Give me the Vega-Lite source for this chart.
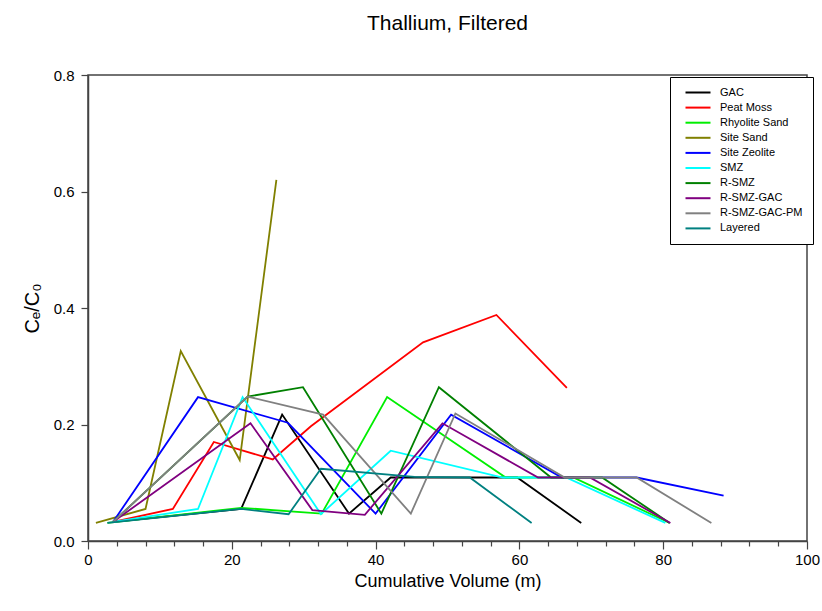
{
  "$schema": "https://vega.github.io/schema/vega-lite/v6.json",
  "width": 719,
  "height": 466,
  "autosize": {"type": "none"},
  "padding": {"left": 88, "top": 75, "right": 15, "bottom": 70},
  "background": "white",
  "title": {"text": "Thallium, Filtered", "font": "Liberation Sans", "fontSize": 21, "fontWeight": "normal", "color": "#000", "anchor": "middle", "offset": 34},
  "config": {
    "view": {"stroke": "#444", "strokeWidth": 1.5},
    "axis": {"labelFont": "Liberation Sans", "titleFont": "Liberation Sans", "labelColor": "#000", "titleColor": "#000", "domainColor": "#444", "tickColor": "#444", "domainWidth": 1.5, "tickWidth": 1.2, "grid": false, "titleFontWeight": "normal"}
  },
  "data": {"values": [
    {"s": "GAC", "x": 3.5, "y": 0.033}, {"s": "GAC", "x": 21.3, "y": 0.055}, {"s": "GAC", "x": 27.0, "y": 0.217}, {"s": "GAC", "x": 36.3, "y": 0.047}, {"s": "GAC", "x": 42.1, "y": 0.109}, {"s": "GAC", "x": 59.7, "y": 0.109}, {"s": "GAC", "x": 68.6, "y": 0.031},
    {"s": "Peat Moss", "x": 3.5, "y": 0.033}, {"s": "Peat Moss", "x": 11.8, "y": 0.055}, {"s": "Peat Moss", "x": 17.5, "y": 0.170}, {"s": "Peat Moss", "x": 25.7, "y": 0.140}, {"s": "Peat Moss", "x": 31.0, "y": 0.197}, {"s": "Peat Moss", "x": 46.6, "y": 0.341}, {"s": "Peat Moss", "x": 56.8, "y": 0.388}, {"s": "Peat Moss", "x": 66.6, "y": 0.263},
    {"s": "Rhyolite Sand", "x": 2.7, "y": 0.031}, {"s": "Rhyolite Sand", "x": 21.3, "y": 0.057}, {"s": "Rhyolite Sand", "x": 32.5, "y": 0.047}, {"s": "Rhyolite Sand", "x": 41.6, "y": 0.247}, {"s": "Rhyolite Sand", "x": 58.1, "y": 0.109}, {"s": "Rhyolite Sand", "x": 67.5, "y": 0.109}, {"s": "Rhyolite Sand", "x": 80.9, "y": 0.031},
    {"s": "Site Sand", "x": 1.1, "y": 0.031}, {"s": "Site Sand", "x": 8.0, "y": 0.055}, {"s": "Site Sand", "x": 12.9, "y": 0.326}, {"s": "Site Sand", "x": 21.1, "y": 0.139}, {"s": "Site Sand", "x": 26.2, "y": 0.620},
    {"s": "Site Zeolite", "x": 3.5, "y": 0.033}, {"s": "Site Zeolite", "x": 15.3, "y": 0.247}, {"s": "Site Zeolite", "x": 27.8, "y": 0.203}, {"s": "Site Zeolite", "x": 40.0, "y": 0.047}, {"s": "Site Zeolite", "x": 50.5, "y": 0.217}, {"s": "Site Zeolite", "x": 65.9, "y": 0.109}, {"s": "Site Zeolite", "x": 76.3, "y": 0.109}, {"s": "Site Zeolite", "x": 88.4, "y": 0.078},
    {"s": "SMZ", "x": 3.5, "y": 0.033}, {"s": "SMZ", "x": 15.3, "y": 0.055}, {"s": "SMZ", "x": 21.5, "y": 0.247}, {"s": "SMZ", "x": 32.4, "y": 0.046}, {"s": "SMZ", "x": 42.1, "y": 0.155}, {"s": "SMZ", "x": 57.7, "y": 0.109}, {"s": "SMZ", "x": 66.5, "y": 0.109}, {"s": "SMZ", "x": 80.3, "y": 0.031},
    {"s": "R-SMZ", "x": 3.5, "y": 0.033}, {"s": "R-SMZ", "x": 22.2, "y": 0.248}, {"s": "R-SMZ", "x": 29.9, "y": 0.264}, {"s": "R-SMZ", "x": 40.8, "y": 0.047}, {"s": "R-SMZ", "x": 48.8, "y": 0.264}, {"s": "R-SMZ", "x": 64.4, "y": 0.109}, {"s": "R-SMZ", "x": 71.5, "y": 0.109}, {"s": "R-SMZ", "x": 80.9, "y": 0.031},
    {"s": "R-SMZ-GAC", "x": 3.5, "y": 0.033}, {"s": "R-SMZ-GAC", "x": 22.6, "y": 0.202}, {"s": "R-SMZ-GAC", "x": 31.2, "y": 0.053}, {"s": "R-SMZ-GAC", "x": 38.5, "y": 0.045}, {"s": "R-SMZ-GAC", "x": 49.3, "y": 0.202}, {"s": "R-SMZ-GAC", "x": 62.6, "y": 0.109}, {"s": "R-SMZ-GAC", "x": 69.8, "y": 0.109}, {"s": "R-SMZ-GAC", "x": 81.0, "y": 0.031},
    {"s": "R-SMZ-GAC-PM", "x": 3.5, "y": 0.033}, {"s": "R-SMZ-GAC-PM", "x": 22.2, "y": 0.248}, {"s": "R-SMZ-GAC-PM", "x": 32.7, "y": 0.217}, {"s": "R-SMZ-GAC-PM", "x": 44.9, "y": 0.047}, {"s": "R-SMZ-GAC-PM", "x": 51.1, "y": 0.219}, {"s": "R-SMZ-GAC-PM", "x": 66.3, "y": 0.109}, {"s": "R-SMZ-GAC-PM", "x": 76.3, "y": 0.109}, {"s": "R-SMZ-GAC-PM", "x": 86.7, "y": 0.031},
    {"s": "Layered", "x": 2.7, "y": 0.031}, {"s": "Layered", "x": 21.3, "y": 0.055}, {"s": "Layered", "x": 27.9, "y": 0.046}, {"s": "Layered", "x": 32.4, "y": 0.124}, {"s": "Layered", "x": 45.4, "y": 0.110}, {"s": "Layered", "x": 53.1, "y": 0.109}, {"s": "Layered", "x": 61.7, "y": 0.031}
  ]},
  "mark": {"type": "line", "strokeWidth": 1.8},
  "encoding": {
    "x": {"field": "x", "type": "quantitative", "scale": {"domain": [0, 100], "nice": false},
      "axis": {"title": "Cumulative Volume (m)", "titleFontSize": 18, "labelFontSize": 15, "values": [0,4,8,12,16,20,24,28,32,36,40,44,48,52,56,60,64,68,72,76,80,84,88,92,96,100],
        "labelExpr": "datum.value % 20 === 0 ? datum.label : ''",
        "tickSize": {"condition": {"test": "datum.value % 20 === 0", "value": 8}, "value": 5},
        "labelPadding": 3, "titlePadding": 5, "labelFlush": false, "labelOverlap": false}},
    "y": {"field": "y", "type": "quantitative", "scale": {"domain": [0, 0.8], "nice": false},
      "axis": {"title": "Cₑ/C₀", "titleFontSize": 20, "labelFontSize": 15, "values": [0, 0.2, 0.4, 0.6, 0.8], "format": ".1f", "tickSize": 7, "labelPadding": 7, "titlePadding": 11, "labelFlush": false}},
    "color": {"field": "s", "type": "nominal",
      "scale": {"domain": ["GAC", "Peat Moss", "Rhyolite Sand", "Site Sand", "Site Zeolite", "SMZ", "R-SMZ", "R-SMZ-GAC", "R-SMZ-GAC-PM", "Layered"],
        "range": ["#000000", "#ff0000", "#00ee00", "#808000", "#0000ff", "#00ffff", "#008000", "#800080", "#808080", "#008080"]},
      "legend": {"title": null, "orient": "none", "legendX": 582, "legendY": 2, "labelFont": "Liberation Sans", "labelFontSize": 11, "labelColor": "#000",
        "symbolType": "M0,0H10", "symbolSize": 25, "symbolStrokeWidth": 2, "labelOffset": 29, "padding": 10, "rowPadding": 3.1,
        "strokeColor": "#000", "fillColor": "white"}}
  }
}
